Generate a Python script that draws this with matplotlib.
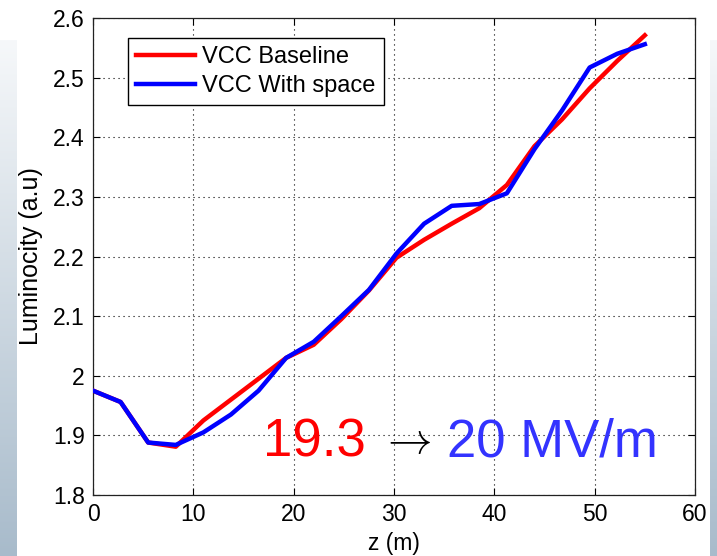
import matplotlib
matplotlib.use('Agg')
import matplotlib.pyplot as plt
import numpy as np
from matplotlib.colors import LinearSegmentedColormap

# data
z = [0, 2.75, 5.5, 8.25, 11, 13.75, 16.5, 19.25, 22, 24.75, 27.5,
     30.25, 33, 35.75, 38.5, 41.25, 44, 46.75, 49.5, 52.25, 55]
lum_baseline = [1.975, 1.956, 1.888, 1.881, 1.925, 1.960, 1.995, 2.030, 2.052, 2.095, 2.143,
                2.198, 2.228, 2.255, 2.281, 2.320, 2.385, 2.430, 2.482, 2.528, 2.571]
lum_space = [1.975, 1.956, 1.888, 1.884, 1.905, 1.935, 1.975, 2.030, 2.057, 2.100, 2.144,
             2.205, 2.255, 2.285, 2.288, 2.306, 2.380, 2.445, 2.517, 2.540, 2.556]
series_labels = ['VCC Baseline', 'VCC With space']
x_ticks = [0, 10, 20, 30, 40, 50, 60]
y_ticks = [1.8, 1.9, 2.0, 2.1, 2.2, 2.3, 2.4, 2.5, 2.6]
y_ticklabels = ['1.8', '1.9', '2', '2.1', '2.2', '2.3', '2.4', '2.5', '2.6']

plt.rcParams['font.family'] = ['Liberation Sans', 'DejaVu Sans']
plt.rcParams['mathtext.fontset'] = 'cm'

W, H = 717, 556
fig = plt.figure(figsize=(W / 100, H / 100), dpi=100)
fig.patch.set_facecolor('white')

# slide background strips on the left / right edges
grad = np.linspace(0, 1, 256).reshape(-1, 1)
strip_cmap = LinearSegmentedColormap.from_list('strip', ['#f6f8fa', '#a8bbcb'])
for x0, w in [(0, 17), (710, 7)]:
    bg = fig.add_axes([x0 / W, 0, w / W, (H - 40) / H])
    bg.imshow(grad, aspect='auto', cmap=strip_cmap, origin='upper')
    bg.set_axis_off()

ax = fig.add_axes([93 / W, 1 - 495 / H, 602 / W, 477 / H])
ax.plot(z, lum_baseline, color='#ff0000', lw=3.2, label=series_labels[0], zorder=3)
ax.plot(z, lum_space, color='#0000ff', lw=3.2, label=series_labels[1], zorder=4)

ax.set_xlim(0, 60)
ax.set_ylim(1.8, 2.6)
ax.set_xticks(x_ticks)
ax.set_yticks(y_ticks)
ax.set_yticklabels(y_ticklabels)
ax.tick_params(direction='in', length=5, width=0.8, top=True, right=True,
               labelsize=16.5, pad=6)
ax.grid(True, color='black', linestyle=(0, (1, 3.5)), linewidth=0.8)
for sp in ax.spines.values():
    sp.set_linewidth(0.9)
    sp.set_color('#222222')

ax.set_xlabel('z (m)', fontsize=16.5, labelpad=4)
ax.set_ylabel('Luminocity (a.u)', fontsize=18, labelpad=7)

leg = ax.legend(loc='upper left', bbox_to_anchor=(0.0576, 0.9587), borderaxespad=0,
                fontsize=17, handlelength=2.5, handletextpad=0.3, labelspacing=0.3,
                borderpad=0.35, fancybox=False, framealpha=1)
leg.get_frame().set_edgecolor('black')
leg.get_frame().set_linewidth(1.0)

ax.text(16.95, 1.865, '19.3', color='#ff0000', fontsize=38, ha='left', va='baseline')
ax.text(28.6, 1.889, r'$\rightarrow$', color='black', fontsize=32, ha='left', va='center')
ax.text(35.3, 1.865, '20 MV/m', color='#3333ff', fontsize=38, ha='left', va='baseline')

fig.savefig('out.png', dpi=100)
